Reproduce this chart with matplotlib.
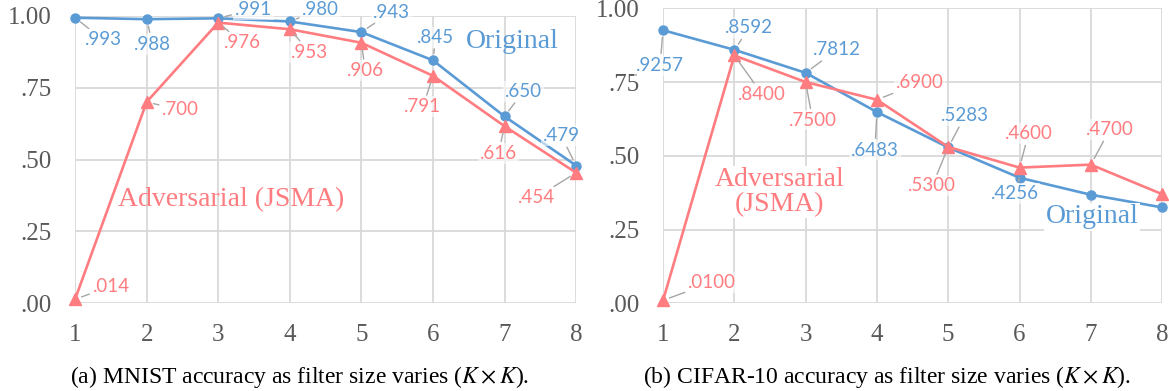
import matplotlib
matplotlib.use("Agg")
import matplotlib.pyplot as plt

plt.rcParams["mathtext.fontset"] = "stix"

_BLUE = "#5b9bd5"
_RED = "#ff7c80"
_GRID = "#d9d9d9"
_TICK = "#595959"
_LEADER = "#a6a6a6"
_SERIF = "Liberation Serif"
_LABEL_FONT = "Lato"

filter_size = [1, 2, 3, 4, 5, 6, 7, 8]

mnist_original = [0.993, 0.988, 0.991, 0.980, 0.943, 0.845, 0.650, 0.479]
mnist_adversarial = [0.014, 0.700, 0.976, 0.953, 0.906, 0.791, 0.616, 0.454]

cifar_original = [0.9257, 0.8592, 0.7812, 0.6483, 0.5283, 0.4256, 0.3680, 0.3250]
cifar_adversarial = [0.0100, 0.8400, 0.7500, 0.6900, 0.5300, 0.4600, 0.4700, 0.3700]

y_ticks = [0.0, 0.25, 0.50, 0.75, 1.00]
y_tick_labels = [".00", ".25", ".50", ".75", "1.00"]

# label offsets from each point, in pixels (dx right, dy down); None = no label
mnist_orig_off = [(28, 22), (6, 25), (35, -9), (31, -12), (30, -20), (3, -23), (19, -25), (-15, -30)]
mnist_adv_off = [(36, -13), (34, 8), (24, 20), (20, 23), (4, 28), (-10, 31), (-6, 27), (-40, 25)]
cifar_orig_off = [(-3, 35), (15, -22), (31, -23), (-2, 38), (17, -32), (-5, 16), None, None]
cifar_adv_off = [(49, -18), (28, 39), (7, 38), (43, -17), (-16, 39), (9, -34), (19, -35), None]


def style_axes(ax):
    ax.set_xlim(1, 8)
    ax.set_ylim(0, 1)
    ax.set_xticks(filter_size)
    ax.set_yticks(y_ticks)
    ax.set_yticklabels(y_tick_labels)
    ax.grid(True, color=_GRID, lw=1.3, zorder=0)
    for s in ax.spines.values():
        s.set_visible(False)
    ax.tick_params(length=0, labelsize=18, labelcolor=_TICK)
    ax.tick_params(axis="y", pad=17)
    ax.tick_params(axis="x", pad=15)
    for lab in ax.get_xticklabels() + ax.get_yticklabels():
        lab.set_fontfamily(_SERIF)


def plot_series(ax, values, color, marker, ms, fmt, offsets):
    ax.plot(filter_size, values, color=color, lw=1.9, marker=marker, ms=ms,
            clip_on=False, zorder=3)
    for x, v, off in zip(filter_size, values, offsets):
        if off is None:
            continue
        dx, dy = off
        ax.annotate(fmt.format(v).lstrip("0"), xy=(x, v),
                    xytext=(dx * 0.72, -dy * 0.72), textcoords="offset points",
                    ha="center", va="center", fontsize=13.5, color=color,
                    family=_LABEL_FONT, zorder=5,
                    bbox=dict(boxstyle="square,pad=0.1", fc="white", ec="none", alpha=0.6),
                    arrowprops=dict(arrowstyle="-", color=_LEADER, lw=1.0,
                                    shrinkA=1, shrinkB=5))


fig = plt.figure(figsize=(11.69, 3.91), dpi=100)
ax1 = fig.add_axes([0.0642, 0.2243, 0.4286, 0.7355])
ax2 = fig.add_axes([0.5672, 0.2243, 0.4269, 0.7545])

for ax in (ax1, ax2):
    style_axes(ax)

plot_series(ax1, mnist_original, _BLUE, "o", 6.5, "{:.3f}", mnist_orig_off)
plot_series(ax1, mnist_adversarial, _RED, "^", 8, "{:.3f}", mnist_adv_off)
plot_series(ax2, cifar_original, _BLUE, "o", 6.5, "{:.4f}", cifar_orig_off)
plot_series(ax2, cifar_adversarial, _RED, "^", 8, "{:.4f}", cifar_adv_off)

ax1.text(7.11, 0.909, "Original", color=_BLUE, fontsize=20, family=_SERIF,
         ha="center", va="center", zorder=6)
ax1.text(3.18, 0.359, "Adversarial (JSMA)", color=_RED, fontsize=20, family=_SERIF,
         ha="center", va="center", zorder=6)
ax2.text(7.02, 0.293, "Original", color=_BLUE, fontsize=20, family=_SERIF,
         ha="center", va="center", zorder=6,
         bbox=dict(boxstyle="square,pad=0.05", fc="white", ec="none"))
ax2.text(2.63, 0.377, "Adversarial\n(JSMA)", color=_RED, fontsize=20, family=_SERIF,
         ha="center", va="center", linespacing=1.0, zorder=6,
         bbox=dict(boxstyle="square,pad=0.05", fc="white", ec="none"))

fig.text(300 / 1169, 1 - 377 / 391,
         r"(a) MNIST accuracy as filter size varies ($K \times K$).",
         ha="center", va="center", fontsize=17, family=_SERIF)
fig.text(887 / 1169, 1 - 377 / 391,
         r"(b) CIFAR-10 accuracy as filter size varies ($K \times K$).",
         ha="center", va="center", fontsize=17, family=_SERIF)

fig.savefig("out.png", dpi=100, facecolor="white")
plt.close(fig)
